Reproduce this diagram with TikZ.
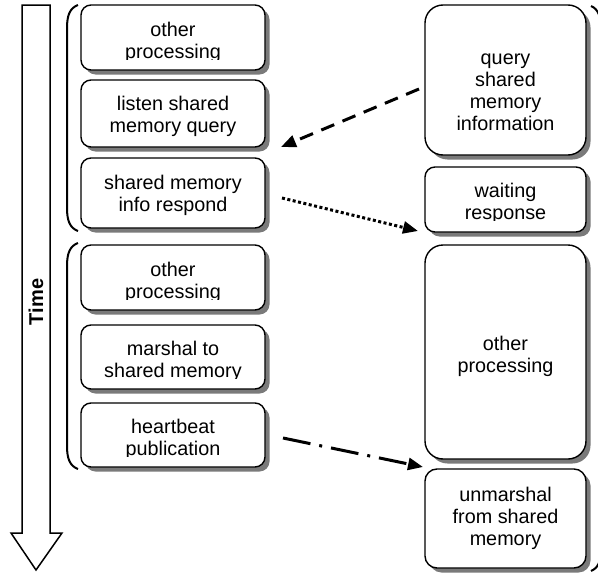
\documentclass[tikz,border=0pt]{standalone}
\usepackage{fontspec}
\setmainfont{Liberation Sans}
\usetikzlibrary{arrows.meta,calc}

% one text line per node, placed on its baseline, 22pt apart
\newcommand\boxlines[4]{%
  \foreach \lineText [count=\k from 0] in {#4}{%
    \node[txt] (#1\k) at (#2,#3+22*\k) {\lineText};}}

% a rounded step box with its shadow: name, centre x, centre y, width, height, radius
\newcommand\stagebox[6]{%
  \path[boxshadow,rounded corners=#6pt]
    ({#2-#4/2+4.5},{#3-#5/2+4.5}) rectangle ({#2+#4/2+4.5},{#3+#5/2+4.5});
  \node[stage,minimum width=#4pt,minimum height=#5pt,rounded corners=#6pt] (#1) at (#2,#3) {};}

\begin{document}
\begin{tikzpicture}[x=1pt,y=-1pt,
  stage/.style={draw,line width=1.4pt,fill=white,inner sep=0pt,outer sep=0pt},
  boxshadow/.style={fill=black!52},
  txt/.style={anchor=base,inner sep=0pt,font=\fontsize{19.8}{22}\selectfont},
  brace/.style={line width=2pt},
  msg/.style={line width=3pt,-{Triangle[length=15pt,width=12pt]}}]

\useasboundingbox (0,0) rectangle (598,573);
\fill[white] (0,0) rectangle (598,573);

% time axis
\draw[line width=1.5pt,line join=miter]
  (22,5) -- (50,5) -- (50,533) -- (62,533) -- (36,570) -- (11,533) -- (22,533) -- cycle;
\node[rotate=90,inner sep=0pt,font=\bfseries\fontsize{20}{24}\selectfont] (time) at (36,302) {Time};

% groups of steps on the left
\draw[brace] (78,5) .. controls (70,8) and (67,15) .. (67,28) -- (67,208)
  .. controls (67,221) and (70,228) .. (78,231);
\draw[brace] (78,243) .. controls (70,246) and (67,253) .. (67,266) -- (67,446)
  .. controls (67,459) and (70,466) .. (78,469);
% group on the right
\draw[brace] (591,6) .. controls (598,9) and (601,16) .. (601,30) -- (601,548)
  .. controls (601,562) and (598,568) .. (591,571);

% left column
\stagebox{b1}{173}{37.5}{184}{65}{10}
\stagebox{b2}{173}{113.5}{184}{67}{10}
\stagebox{b3}{173}{193}{184}{70}{10}
\stagebox{b4}{173}{277.5}{184}{65}{10}
\stagebox{b5}{173}{357}{184}{64}{10}
\stagebox{b6}{173}{435}{184}{64}{10}

% right column
\stagebox{r1}{505.5}{80}{161}{150}{18}
\stagebox{r2}{505.5}{199.5}{161}{65}{10}
\stagebox{r3}{505.5}{352}{161}{214}{18}
\stagebox{r4}{505.5}{518.5}{161}{99}{12}

% labels (some are cut off at the bottom of their frame)
\begin{scope}
  \clip (81,5) rectangle (265,59.5);
  \boxlines{t1-}{173}{36}{other,processing}
\end{scope}
\boxlines{t2-}{173}{110}{listen shared,memory query}
\boxlines{t3-}{173}{189}{shared memory,info respond}
\begin{scope}
  \clip (81,245) rectangle (265,299.5);
  \boxlines{t4-}{173}{276}{other,processing}
\end{scope}
\begin{scope}
  \clip (81,325) rectangle (265,378.5);
  \boxlines{t5-}{173}{355}{marshal to,shared memory}
\end{scope}
\begin{scope}
  \clip (81,403) rectangle (265,456.5);
  \boxlines{t6-}{173}{433}{heartbeat,publication}
\end{scope}

\boxlines{u1-}{505.5}{64}{query,shared,memory,information}
\begin{scope}
  \clip (425,167) rectangle (586,220.5);
  \boxlines{u2-}{505.5}{197}{waiting,response}
\end{scope}
\boxlines{u3-}{505.5}{350}{other,processing}
\boxlines{u4-}{505.5}{501}{unmarshal,from shared,memory}

% messages between the two sides
\draw[msg,dash pattern=on 14pt off 9pt]
  ($(r1.west)+(-6,9)$) -- ($(b2.south east)+(16,0)$);
\draw[msg,dash pattern=on 3pt off 2.5pt]
  ($(b3.east)+(17,5)$) -- ($(r2.south west)+(-7,-1)$);
\draw[msg,dash pattern=on 28pt off 9pt on 3pt off 9pt]
  ($(b6.east)+(18,3)$) -- ($(r4.north west)+(-2,-2)$);
\end{tikzpicture}
\end{document}
